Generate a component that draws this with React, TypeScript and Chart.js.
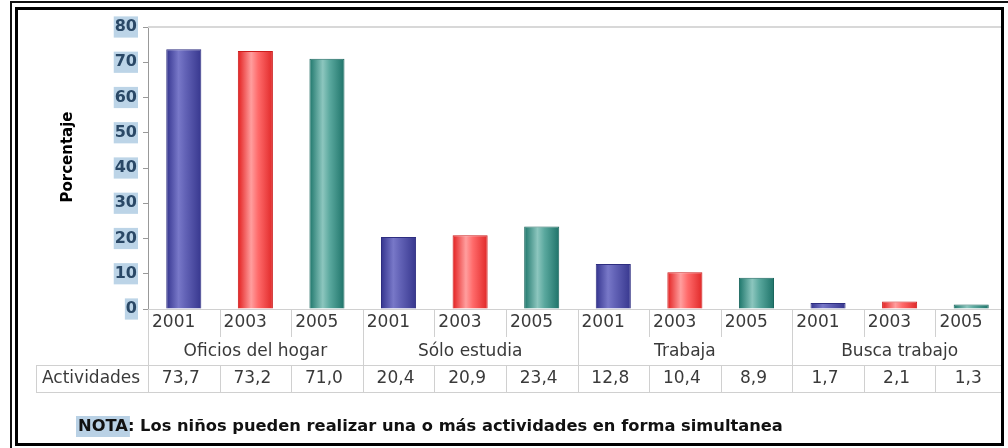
import React, { useEffect, useRef } from 'react';
import { Chart, registerables } from 'chart.js';

Chart.register(...registerables);

// ---- data ----
const groups = ['Oficios del hogar', 'Sólo estudia', 'Trabaja', 'Busca trabajo'];
const years = ['2001', '2003', '2005'];
const values2001 = [73.7, 20.4, 12.8, 1.7];
const values2003 = [73.2, 20.9, 10.4, 2.1];
const values2005 = [71.0, 23.4, 8.9, 1.3];
const rowLabel = 'Actividades';
const yTitle = 'Porcentaje';
const yMin = 0;
const yMax = 80;
const yStep = 10;
const noteLead = 'NOTA';
const noteRest = ': Los niños pueden realizar una o más actividades en forma simultanea';

const seriesByYear = [values2001, values2003, values2005];
const labels = groups.flatMap((g) => years.map((y) => `${g} ${y}`));
const values = groups.flatMap((_, gi) => seriesByYear.map((s) => s[gi]));

// ---- styles ----
const FONT = '"DejaVu Sans", Verdana, sans-serif';
const BAR_PCT = 0.49;
const barStops: [number, string][][] = [
  [[0, '#34348e'], [0.35, '#7878c8'], [0.55, '#6262b6'], [1, '#37378e']],
  [[0, '#e31f1f'], [0.38, '#ff9e9e'], [0.58, '#ff6a6a'], [1, '#e02828']],
  [[0, '#1d766b'], [0.38, '#8cc6be'], [0.58, '#5aa89e'], [1, '#1e7369']],
];
const barBorders = ['#2e2e80', '#cc1c1c', '#1a665d'];

const fmt = (v: number) => v.toFixed(1).replace('.', ',');

const tablePlugin = {
  id: 'tablePlugin',
  afterDraw(chart: any) {
    const { ctx, chartArea } = chart;
    const xs = chart.scales.x;
    const n = labels.length;
    const colW = (chartArea.right - chartArea.left) / n;
    const yAxis = chartArea.bottom;
    const rowYearBottom = 337;
    const rowGroupBottom = 365;
    const rowValBottom = 392;
    const farRight = chart.width;

    ctx.save();
    // top plot border
    ctx.strokeStyle = '#d8d8d8';
    ctx.lineWidth = 2;
    ctx.beginPath();
    ctx.moveTo(chartArea.left, chartArea.top);
    ctx.lineTo(farRight, chartArea.top);
    ctx.stroke();

    // table lines
    ctx.strokeStyle = '#d0d0d0';
    ctx.lineWidth = 1;
    const hline = (x1: number, x2: number, y: number) => {
      ctx.beginPath();
      ctx.moveTo(x1, Math.round(y) + 0.5);
      ctx.lineTo(x2, Math.round(y) + 0.5);
      ctx.stroke();
    };
    const vline = (x: number, y1: number, y2: number) => {
      ctx.beginPath();
      ctx.moveTo(Math.round(x) + 0.5, y1);
      ctx.lineTo(Math.round(x) + 0.5, y2);
      ctx.stroke();
    };
    hline(chartArea.left, farRight, yAxis);
    hline(36, farRight, rowGroupBottom);
    hline(36, farRight, rowValBottom);
    vline(36, rowGroupBottom, rowValBottom);
    for (let i = 0; i <= n; i++) {
      const x = chartArea.left + i * colW;
      if (i % 3 === 0) {
        vline(x, yAxis, rowValBottom);
      } else {
        vline(x, yAxis, rowYearBottom);
        vline(x, rowGroupBottom, rowValBottom);
      }
    }

    // texts
    ctx.fillStyle = '#3a3a3a';
    ctx.font = `17px ${FONT}`;
    ctx.textBaseline = 'middle';
    for (let i = 0; i < n; i++) {
      const cx = xs.getPixelForValue(i);
      ctx.textAlign = 'left';
      ctx.fillText(years[i % 3], cx - colW / 2 + 4, 323);
      ctx.textAlign = 'center';
      ctx.fillText(fmt(values[i]), cx - 3, 379);
    }
    groups.forEach((g, gi) => {
      const cx = xs.getPixelForValue(gi * 3 + 1);
      ctx.textAlign = 'center';
      ctx.fillText(g, cx, 352);
    });
    ctx.textAlign = 'left';
    ctx.fillText(rowLabel, 42, 379);

    // y title
    ctx.save();
    ctx.translate(68, 157);
    ctx.rotate(-Math.PI / 2);
    ctx.font = `bold 15px ${FONT}`;
    ctx.fillStyle = '#000';
    ctx.textAlign = 'center';
    ctx.textBaseline = 'middle';
    ctx.fillText(yTitle, 0, 0);
    ctx.restore();

    // note
    ctx.font = `bold 16.3px ${FONT}`;
    ctx.textAlign = 'left';
    ctx.textBaseline = 'middle';
    const noteX = 78;
    const noteY = 427;
    const wLead = ctx.measureText(noteLead).width;
    ctx.fillStyle = '#b9d1e5';
    ctx.fillRect(noteX - 2, noteY - 11, wLead + 4, 21);
    ctx.fillStyle = '#111';
    ctx.fillText(noteLead, noteX, noteY);
    ctx.fillText(noteRest, noteX + wLead, noteY);
    ctx.restore();
  },
};

export default function App() {
  const canvasRef = useRef<HTMLCanvasElement | null>(null);

  useEffect(() => {
    if (!canvasRef.current) return;
    const chart = new Chart(canvasRef.current, {
      type: 'bar',
      data: {
        labels,
        datasets: [
          {
            data: values,
            categoryPercentage: 1,
            barPercentage: BAR_PCT,
            borderWidth: 1,
            borderColor: (c: any) => barBorders[c.dataIndex % 3],
            backgroundColor: (c: any) => {
              const chart = c.chart;
              const idx = c.dataIndex % 3;
              const xs = chart.scales && chart.scales.x;
              if (!xs || !chart.chartArea || c.dataIndex === undefined) return barStops[idx][1][1];
              const cx = xs.getPixelForValue(c.dataIndex);
              const colW = (chart.chartArea.right - chart.chartArea.left) / labels.length;
              const half = (colW * BAR_PCT) / 2;
              const g = chart.ctx.createLinearGradient(cx - half, 0, cx + half, 0);
              barStops[idx].forEach(([p, col]) => g.addColorStop(p, col));
              return g;
            },
          },
        ],
      },
      options: {
        animation: false,
        responsive: true,
        maintainAspectRatio: false,
        layout: { padding: { left: 0, right: 3, top: 27, bottom: 139 } },
        plugins: { legend: { display: false }, tooltip: { enabled: false }, title: { display: false } },
        scales: {
          x: { type: 'category', display: false, offset: true },
          y: {
            min: yMin,
            max: yMax,
            afterFit: (s: any) => {
              s.width = 148;
            },
            ticks: {
              stepSize: yStep,
              padding: 6,
              color: '#2a4866',
              font: { family: FONT, size: 16, weight: 'bold' },
              showLabelBackdrop: true,
              backdropColor: '#bcd4e7',
              backdropPadding: 1,
            },
            grid: { drawOnChartArea: false, drawTicks: true, tickLength: 5, color: '#999' },
            border: { display: true, color: '#999', width: 1 },
          },
        },
      } as any,
      plugins: [tablePlugin],
    });
    return () => chart.destroy();
  }, []);

  return (
    <div style={{ position: 'fixed', left: 0, top: 0, width: 1008, height: 448, background: '#fff', overflow: 'hidden' }}>
      <div
        style={{
          position: 'absolute',
          left: 10,
          top: 1,
          width: 1100,
          height: 600,
          borderLeft: '2px solid #111',
          borderTop: '2px solid #111',
        }}
      />
      <div
        style={{
          position: 'absolute',
          left: 15,
          top: 7,
          width: 989,
          height: 439,
          border: '3px solid #000',
          boxSizing: 'border-box',
          overflow: 'hidden',
          background: '#fff',
        }}
      >
        <div style={{ position: 'absolute', left: -18, top: -10, width: 1010, height: 448 }}>
          <canvas ref={canvasRef} />
        </div>
      </div>
    </div>
  );
}
